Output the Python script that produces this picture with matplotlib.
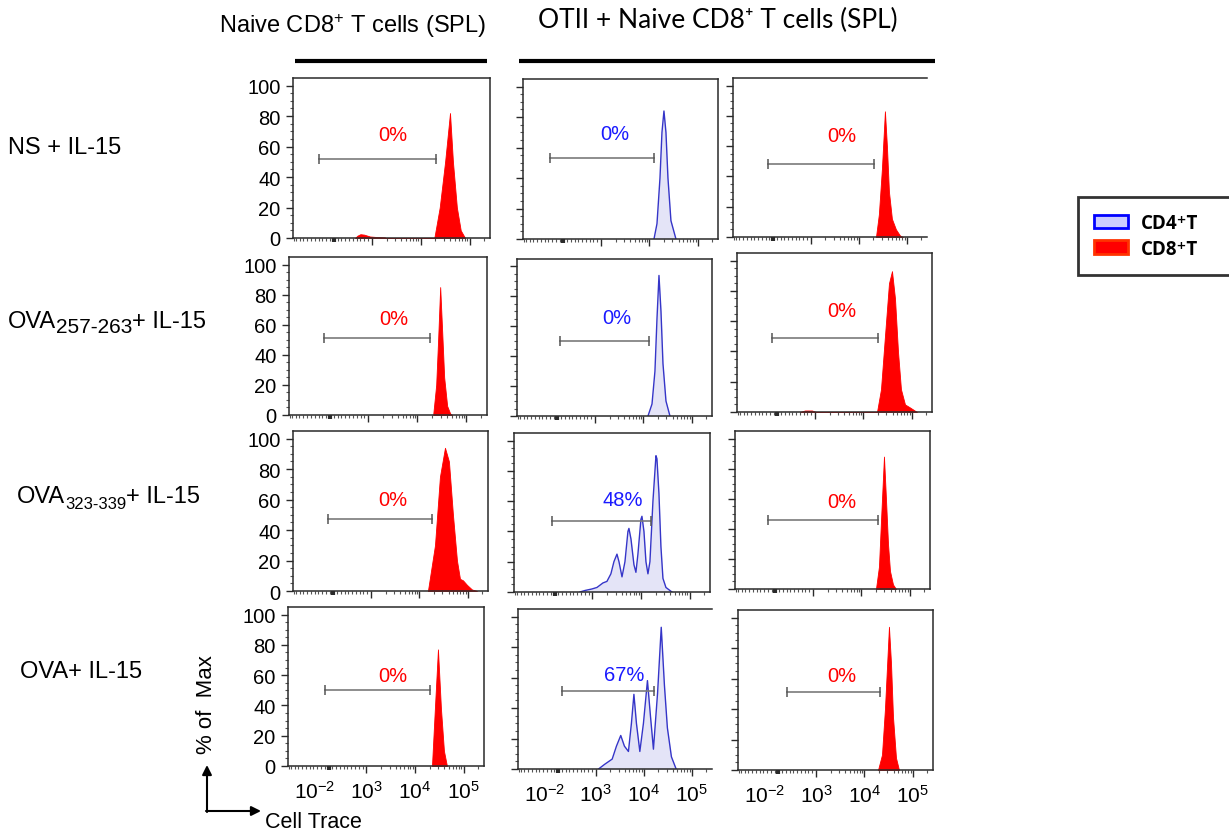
import matplotlib.pyplot as plt
from matplotlib.patches import Patch
from matplotlib.ticker import FixedLocator, NullFormatter
from matplotlib.transforms import ScaledTranslation

plt.rcParams['font.family'] = ['Liberation Sans', 'DejaVu Sans']
plt.rcParams['mathtext.fontset'] = 'custom'
plt.rcParams['mathtext.rm'] = 'Liberation Sans'
plt.rcParams['mathtext.it'] = 'Liberation Sans:italic'
plt.rcParams['mathtext.bf'] = 'Liberation Sans:bold'

# ---- data: Cell Trace intensity (x) vs % of max (y) ----
# row labels: (main text, subscript, trailing text)
conditions = [('NS + IL-15', '', ''), ('OVA', '257-263', '+ IL-15'),
              ('OVA', '323-339', '+ IL-15'), ('OVA+ IL-15', '', '')]

# NS + IL-15
ns_naive_x = [560, 620, 700, 800, 950, 1300, 1850, 1950,
              1.9e4, 2.45e4, 3.16e4, 3.98e4, 4.57e4, 5.5e4, 6.6e4, 8.1e4]
ns_naive_y = [0, 1.5, 2.5, 2.2, 1, 0.6, 0.4, 0,
              0, 20, 50, 82, 50, 20, 5, 0]
ns_cd4_x = [1.245e4, 1.435e4, 1.656e4, 1.82e4, 2.0e4, 2.2e4, 2.42e4, 2.79e4, 3.54e4]
ns_cd4_y = [0, 10, 40, 70, 84, 70, 40, 12, 0]
ns_cd8_x = [2.28e4, 2.62e4, 3.03e4, 3.5e4, 3.85e4, 4.24e4, 4.89e4, 5.93e4, 7.18e4, 8.28e4]
ns_cd8_y = [0, 15, 45, 83, 60, 30, 12, 5, 1, 0]

# OVA 257-263 + IL-15
ova257_naive_x = [2.1e4, 2.42e4, 2.65e4, 2.92e4, 3.21e4, 3.52e4, 4.05e4, 4.66e4, 5.1e4]
ova257_naive_y = [0, 20, 50, 85, 55, 25, 6, 1, 0]
ova257_cd4_x = [1.245e4, 1.507e4, 1.734e4, 1.91e4, 2.1e4, 2.31e4, 2.54e4, 2.93e4, 3.54e4]
ova257_cd4_y = [0, 8, 30, 65, 94, 70, 35, 10, 0]
ova257_cd8_x = [600, 734, 919, 1050,
                1.91e4, 2.31e4, 2.79e4, 3.38e4, 3.9e4, 4.5e4, 5.19e4, 5.98e4, 7.24e4, 9.18e4, 1.28e5]
ova257_cd8_y = [0, 1, 1, 0,
                0, 15, 50, 85, 93, 75, 40, 15, 5, 3, 0]

# OVA 323-339 + IL-15
ova323_naive_x = [1.5e4, 2.1e4, 2.66e4, 3.38e4, 4.08e4, 4.94e4, 5.98e4, 6.9e4, 7.96e4, 9.64e4, 1.22e5, 1.55e5]
ova323_naive_y = [0, 30, 75, 94, 85, 50, 20, 8, 7, 4, 1, 0]
ova323_cd4_x = [671, 803, 988, 1240, 1650, 1990, 2400, 2770, 3200, 3520, 4060, 4670, 5380, 5640,
                6210, 7150, 7850, 8630, 9950, 10440, 11480, 12620, 13870, 15240, 17580, 20270,
                21230, 23350, 25650, 28220, 32520, 43150]
ova323_cd4_y = [0, 1, 2, 3, 6, 7, 12, 20, 25, 20, 10, 20, 40, 42,
                35, 18, 13, 25, 48, 50, 40, 20, 12, 20, 60, 90,
                88, 65, 30, 9, 3, 0]
ova323_cd8_x = [2.0e4, 2.31e4, 2.54e4, 2.93e4, 3.22e4, 3.55e4, 3.9e4, 4.5e4, 5.19e4]
ova323_cd8_y = [0, 15, 45, 88, 60, 30, 12, 3, 0]

# OVA + IL-15
ova_naive_x = [2.23e4, 2.56e4, 2.96e4, 3.41e4, 3.93e4, 4.53e4]
ova_naive_y = [0, 38, 77, 38, 10, 0]
ova_cd4_x = [1150, 1530, 2210, 2710, 3330, 3970, 4810, 5550, 6250, 7050, 8300, 9860, 11940,
             13770, 15900, 19400, 23100, 26900, 31000, 37600, 47100]
ova_cd4_y = [0, 3, 6.5, 15, 22, 15, 11.5, 30, 49, 30, 11.5, 30, 58,
             35, 13, 50, 93, 55, 27, 8, 0]
ova_cd8_x = [1.91e4, 2.31e4, 2.66e4, 3.22e4, 3.55e4, 3.9e4, 4.5e4, 5.19e4]
ova_cd8_y = [0, 10, 40, 94, 70, 35, 8, 0]

curves = [
    [(ns_naive_x, ns_naive_y), (ns_cd4_x, ns_cd4_y), (ns_cd8_x, ns_cd8_y)],
    [(ova257_naive_x, ova257_naive_y), (ova257_cd4_x, ova257_cd4_y), (ova257_cd8_x, ova257_cd8_y)],
    [(ova323_naive_x, ova323_naive_y), (ova323_cd4_x, ova323_cd4_y), (ova323_cd8_x, ova323_cd8_y)],
    [(ova_naive_x, ova_naive_y), (ova_cd4_x, ova_cd4_y), (ova_cd8_x, ova_cd8_y)],
]
cell_type = ['cd8', 'cd4', 'cd8']

# divided-cell gate: low edge, high edge, height
gate_lo = [[-390, -356, -139], [-162, 69, -144], [-144, -69, -197], [-95, 101, 229]]
gate_hi = [[2.05e4, 1.25e4, 2.07e4], [1.83e4, 1.31e4, 2.0e4],
           [1.82e4, 1.6e4, 2.2e4], [2.02e4, 1.67e4, 2.1e4]]
gate_y = [[52, 53, 48.5], [51, 50, 49], [47, 47, 46], [50, 51, 51]]
pct = [['0%', '0%', '0%'], ['0%', '0%', '0%'], ['0%', '48%', '0%'], ['0%', '67%', '0%']]
pct_x = [[2710, 1950, 4480], [3260, 2840, 3600], [2840, 4250, 3970], [3520, 3940, 3440]]
pct_y = [[67.6, 69, 67], [64, 66, 67], [60, 61, 58], [60, 62, 62]]

x_major = [0, 1e3, 1e4, 1e5]
x_labels = ['10$^{-2}$', '10$^{3}$', '10$^{4}$', '10$^{5}$']
x_minor = ([v for v in range(-1100, 1000, 100) if v != 0]
           + [m * 10 ** e for e in (3, 4) for m in range(2, 10)] + [2e5])
y_major = [0, 20, 40, 60, 80, 100]

# ---- layout (pixels) ----
W, H = 1229, 837
boxes = [
    [(293, 79, 490, 239), (523, 80, 718, 240), (733, 79, 927, 238)],
    [(289, 258, 487, 416), (517, 260, 712, 417), (737, 254, 932, 413)],
    [(293, 432, 488, 592), (514, 434, 710, 593), (735, 432, 930, 590)],
    [(288, 608, 484, 767), (518, 610, 712, 770), (738, 611, 933, 771)],
]
no_right_spine = {(0, 2), (3, 1)}
colors = {'cd4': ('#e4e4f7', '#3535c8'), 'cd8': ('#ff0000', '#ff0000')}
text_color = {'cd4': '#1a1aff', 'cd8': '#ff0000'}
spine_col = '#2a2a2a'

fig = plt.figure(figsize=(W / 100, H / 100), dpi=100)

overlay = fig.add_axes([0, 0, 1, 1])
overlay.set_xlim(0, W)
overlay.set_ylim(H, 0)
overlay.axis('off')

for r in range(4):
    for c in range(3):
        l, t, rr, b = boxes[r][c]
        ax = fig.add_axes([l / W, 1 - b / H, (rr - l) / W, (b - t) / H])
        ax.set_xscale('symlog', linthresh=1000, linscale=0.7)
        ax.set_xlim(-1140, 2.62e5)
        ax.set_ylim(0, 105)

        x, y = curves[r][c]
        kind = cell_type[c]
        fill, edge = colors[kind]
        if kind == 'cd4':
            ax.fill_between(x, y, color=fill, lw=0)
            ax.plot(x, y, color=edge, lw=1)
        else:
            ax.fill_between(x, y, facecolor=fill, edgecolor=edge, lw=0.6)

        ax.plot([gate_lo[r][c], gate_hi[r][c]], [gate_y[r][c]] * 2, color='#7a7a7a',
                lw=1.2, marker='|', ms=7, mew=1.1, mec='#555555')
        ax.text(pct_x[r][c], pct_y[r][c], pct[r][c], color=text_color[kind],
                fontsize=14.5, ha='center', va='center')

        ax.xaxis.set_major_locator(FixedLocator(x_major))
        ax.xaxis.set_minor_locator(FixedLocator(x_minor))
        ax.xaxis.set_minor_formatter(NullFormatter())
        ax.set_xticklabels(x_labels if r == 3 else [''] * 4, fontsize=15)
        ax.set_yticks(y_major)
        ax.set_yticklabels([str(v) for v in y_major] if c == 0 else [''] * 6, fontsize=14.5)
        ax.yaxis.set_minor_locator(FixedLocator(range(0, 105, 5)))

        ax.tick_params(which='major', direction='out', length=5, width=1,
                       color=spine_col, pad=4)
        ax.tick_params(which='minor', direction='out', length=2.5, width=0.8,
                       color='#555555')
        ax.tick_params(axis='x', which='major', pad=5)
        zero_tick = ax.xaxis.get_major_ticks()[0]
        zero_tick.tick1line.set_markeredgewidth(3)
        zero_tick.tick1line.set_markersize(3)
        if r == 3:
            lab = ax.get_xticklabels()[0]
            lab.set_transform(lab.get_transform()
                              + ScaledTranslation(-0.14, 0, fig.dpi_scale_trans))

        for s in ax.spines.values():
            s.set_color(spine_col)
            s.set_linewidth(1.1)
        if (r, c) in no_right_spine:
            ax.spines['right'].set_visible(False)

# column headers
overlay.text(353, 26, 'Naive CD8$^{+}$ T cells (SPL)', fontsize=17,
             ha='center', va='center')
overlay.text(718, 20, 'OTII + Naive CD8\u207a T cells (SPL)', fontsize=19,
             ha='center', va='center', family=['Lato', 'DejaVu Sans'])
overlay.plot([295, 487], [62, 62], color='black', lw=3, solid_capstyle='butt')
overlay.plot([519, 935], [62, 62], color='black', lw=3, solid_capstyle='butt')

# row labels (peptide range as a subscript)
row_x = [8, 8, 17, 20]
row_y = [148, 322, 497, 672]
sub_size = [0, 15, 12, 0]
for (main, sub, tail), rx, ry, ss in zip(conditions, row_x, row_y, sub_size):
    t1 = overlay.text(rx, ry, main, fontsize=17, ha='left', va='center')
    if sub:
        t2 = overlay.annotate(sub, xy=(1, 0), xycoords=t1, xytext=(0, -3),
                              textcoords='offset points', fontsize=ss,
                              ha='left', va='bottom')
        overlay.annotate(tail, xy=(1, 0), xycoords=(t2, t1), fontsize=17,
                         ha='left', va='bottom')

# axis titles with corner arrows
overlay.text(207, 705, '% of  Max', fontsize=16, rotation=90, ha='center', va='center')
overlay.annotate('', xy=(207, 766), xytext=(207, 813),
                 arrowprops=dict(arrowstyle='-|>', lw=1.5, color='black', mutation_scale=14,
                                 shrinkA=0, shrinkB=0))
overlay.annotate('', xy=(261, 812), xytext=(206, 812),
                 arrowprops=dict(arrowstyle='-|>', lw=1.5, color='black', mutation_scale=14,
                                 shrinkA=0, shrinkB=0))
overlay.text(265, 823, 'Cell Trace', fontsize=15.5, ha='left', va='center')

# legend
handles = [Patch(facecolor='#ccccff', edgecolor='#0000ff', lw=2, label='CD4\u207aT'),
           Patch(facecolor='#ff0000', edgecolor='#ff3300', lw=2, label='CD8\u207aT')]
leg = fig.legend(handles=handles, loc='upper left',
                 bbox_to_anchor=(1078 / W, 1 - 198 / H, 165 / W, 0), mode='expand',
                 frameon=True, fancybox=False, edgecolor='black',
                 prop={'family': ['Open Sans', 'DejaVu Sans'], 'weight': 'bold', 'size': 13.5},
                 handlelength=1.8, handleheight=0.75, labelspacing=0.3, borderpad=0.85,
                 handletextpad=0.7, borderaxespad=0)
leg.get_frame().set_linewidth(2)

fig.savefig('out.png', dpi=100)
